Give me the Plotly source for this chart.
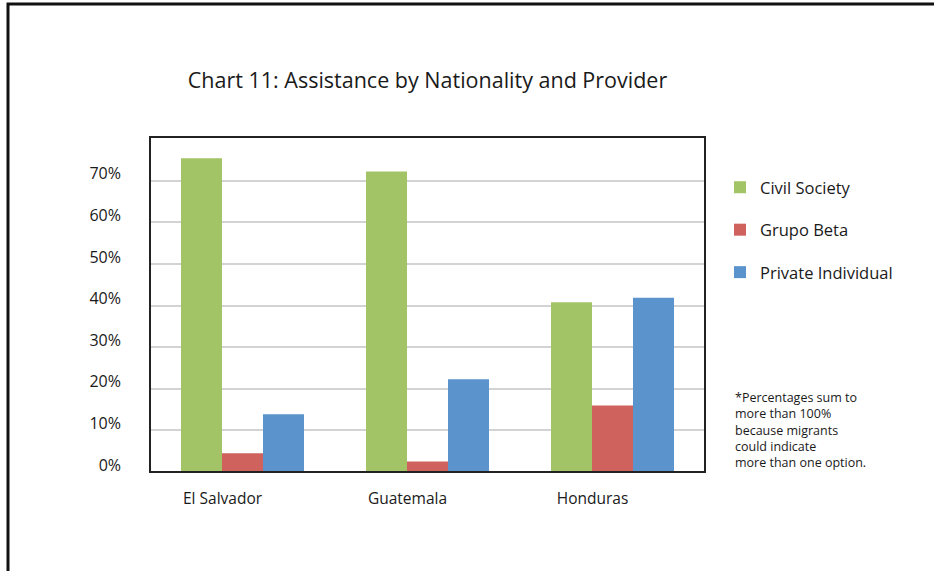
import plotly.graph_objects as go

countries = ["El Salvador", "Guatemala", "Honduras"]
civil_society = [75.4, 72.2, 40.8]
grupo_beta = [4.5, 2.5, 16.0]
private_individual = [13.9, 22.3, 41.9]
tick_vals = [0, 10, 20, 30, 40, 50, 60, 70]
tick_text = ["0%", "10%", "20%", "30%", "40%", "50%", "60%", "70%"]

FONT = "Open Sans"
series = [
    ("Civil Society", civil_society, "#A3C466"),
    ("Grupo Beta", grupo_beta, "#CF625C"),
    ("Private Individual", private_individual, "#5B94CD"),
]

fig = go.Figure()
for i, (name, vals, col) in enumerate(series):
    fig.add_trace(go.Bar(x=countries, y=vals, name=name, marker_color=col,
                         marker_line_width=0, legendgroup=str(i)))

W, H = 934, 571
L, R, T, B = 150, 705, 137, 472

def px_x(p):
    return (p - L) / (R - L)

def px_y(p):
    return (B - p) / (B - T)

fig.update_layout(
    width=W, height=H,
    margin=dict(l=L, r=W - R, t=T, b=H - B, pad=0),
    paper_bgcolor="white", plot_bgcolor="white",
    font=dict(family=FONT, color="#1a1a1a"),
    barmode="group", bargap=0.335, bargroupgap=0,
    title=dict(text="Chart 11: Assistance by Nationality and Provider",
               x=0.5, xanchor="center", xref="paper",
               y=1 - 80 / H, yanchor="middle",
               font=dict(size=21.5, family=FONT, color="#1a1a1a")),
    showlegend=True,
    legend=dict(x=px_x(720), xanchor="left", y=px_y(170), yanchor="top",
                font=dict(size=16.5, family=FONT, color="#1a1a1a"),
                tracegroupgap=18, bgcolor="rgba(0,0,0,0)"),
    xaxis=dict(showgrid=False, showline=False, ticks="", zeroline=False,
               tickfont=dict(size=15.5, family=FONT, color="#1a1a1a"),
               ticklabelshift=-20, ticklabelstandoff=15),
    yaxis=dict(range=[0, 80.5], tickvals=tick_vals, ticktext=tick_text,
               showgrid=True, gridcolor="#d3d3d3", gridwidth=1.5,
               zeroline=False, showline=False, ticks="",
               tickfont=dict(size=16, family=FONT, color="#1a1a1a"),
               ticklabelshift=-7, ticklabelstandoff=28),
    annotations=[dict(
        text="*Percentages sum to<br>more than 100%<br>because migrants<br>could indicate<br>more than one option.",
        x=px_x(733), y=px_y(387), xref="paper", yref="paper",
        xanchor="left", yanchor="top", align="left", showarrow=False,
        font=dict(size=12.5, family=FONT, color="#1a1a1a"))],
    shapes=[
        dict(type="rect", xref="paper", yref="paper", x0=0, x1=1, y0=0, y1=1,
             line=dict(color="#222222", width=2), layer="above"),
        dict(type="rect", xref="paper", yref="paper", x0=px_x(8), x1=px_x(1100),
             y0=px_y(700), y1=px_y(4), line=dict(color="#111111", width=3),
             fillcolor="rgba(0,0,0,0)"),
    ],
)

fig.write_html("out.html", config={"displayModeBar": False})
